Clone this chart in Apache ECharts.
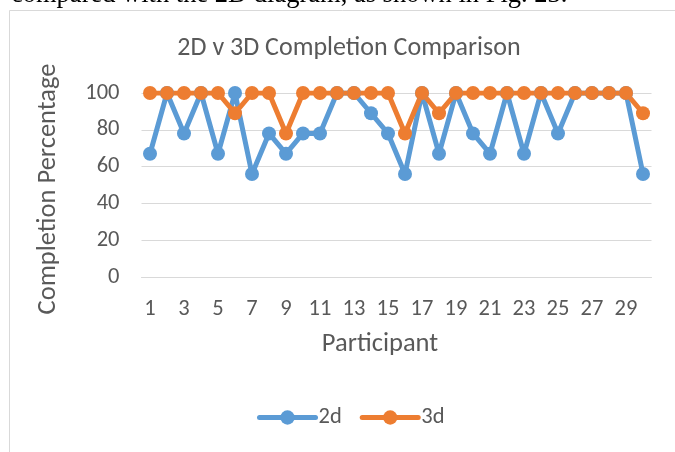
<!DOCTYPE html>
<html>
<head>
<meta charset="utf-8">
<script src="https://cdn.jsdelivr.net/npm/echarts@6/dist/echarts.min.js"></script>
<style>
html,body{margin:0;padding:0;background:#fff;}
#chart{width:675px;height:452px;}
</style>
</head>
<body>
<div id="chart"></div>
<script>
var participants = ['1','2','3','4','5','6','7','8','9','10','11','12','13','14','15','16','17','18','19','20','21','22','23','24','25','26','27','28','29','30'];
var values2d = [67,100,78,100,67,100,56,78,67,78,78,100,100,89,78,56,100,67,100,78,67,100,67,100,78,100,100,100,100,56];
var values3d = [100,100,100,100,100,89,100,100,78,100,100,100,100,100,100,78,100,89,100,100,100,100,100,100,100,100,100,100,100,89];
var yTicks = [0,20,40,60,80,100];

var font = 'Calibri, Carlito, "Open Sans", "Liberation Sans", sans-serif';
var textColor = '#595959';
var chart = echarts.init(document.getElementById('chart'));
chart.setOption({
  animation: false,
  backgroundColor: '#fff',
  textStyle: {fontFamily: font, color: textColor},
  graphic: [
    {type: 'rect', shape: {x: 9.5, y: 10.5, width: 700, height: 500}, style: {fill: 'none', stroke: '#D9D9D9', lineWidth: 1}, silent: true},
    {type: 'text', x: 11, y: 9, style: {text: 'compared with the 2D diagram, as shown in Fig. 23.', font: '26.5px "Liberation Serif", "Times New Roman", serif', fill: '#000', verticalAlign: 'bottom'}, silent: true}
  ],
  title: {
    text: '2D v 3D Completion Comparison',
    left: 344, top: 30, textAlign: 'center',
    textStyle: {fontFamily: font, fontSize: 26, fontWeight: 'normal', color: textColor}
  },
  legend: {
    top: 406, left: 257, padding: 0,
    itemWidth: 56, itemHeight: 18, itemGap: 18,
    lineStyle: {width: 5, cap: 'round'},
    textStyle: {fontFamily: font, fontSize: 22.5, color: textColor, padding: [0, 0, 0, -2]},
    data: ['2d', '3d']
  },
  grid: {left: 141.5, right: 23.5, top: 93, bottom: 175, containLabel: false},
  xAxis: {
    type: 'category',
    data: participants,
    boundaryGap: true,
    name: 'Participant',
    nameLocation: 'middle',
    nameGap: 54,
    nameTextStyle: {fontFamily: font, fontSize: 26.5, color: textColor, padding: [0, 33, 0, 0]},
    axisLine: {show: true, lineStyle: {color: '#D9D9D9', width: 1}},
    axisTick: {show: false},
    axisLabel: {interval: 1, margin: 21, fontFamily: font, fontSize: 22.5, color: textColor}
  },
  yAxis: {
    type: 'value',
    min: yTicks[0], max: yTicks[yTicks.length - 1], interval: 20,
    name: 'Completion Percentage',
    nameLocation: 'middle',
    nameGap: 80,
    nameTextStyle: {fontFamily: font, fontSize: 26.5, color: textColor, padding: [0, 8, 0, 0]},
    axisLine: {show: false},
    axisTick: {show: false},
    splitLine: {lineStyle: {color: '#D9D9D9', width: 1}},
    axisLabel: {margin: 22, fontFamily: font, fontSize: 22.5, color: textColor}
  },
  series: [
    {
      name: '2d', type: 'line', data: values2d,
      symbol: 'circle', symbolSize: 14, showAllSymbol: true,
      lineStyle: {color: '#5B9BD5', width: 5},
      itemStyle: {color: '#5B9BD5'}
    },
    {
      name: '3d', type: 'line', data: values3d,
      symbol: 'circle', symbolSize: 14, showAllSymbol: true,
      lineStyle: {color: '#ED7D31', width: 5},
      itemStyle: {color: '#ED7D31'}
    }
  ]
});
</script>
</body>
</html>
